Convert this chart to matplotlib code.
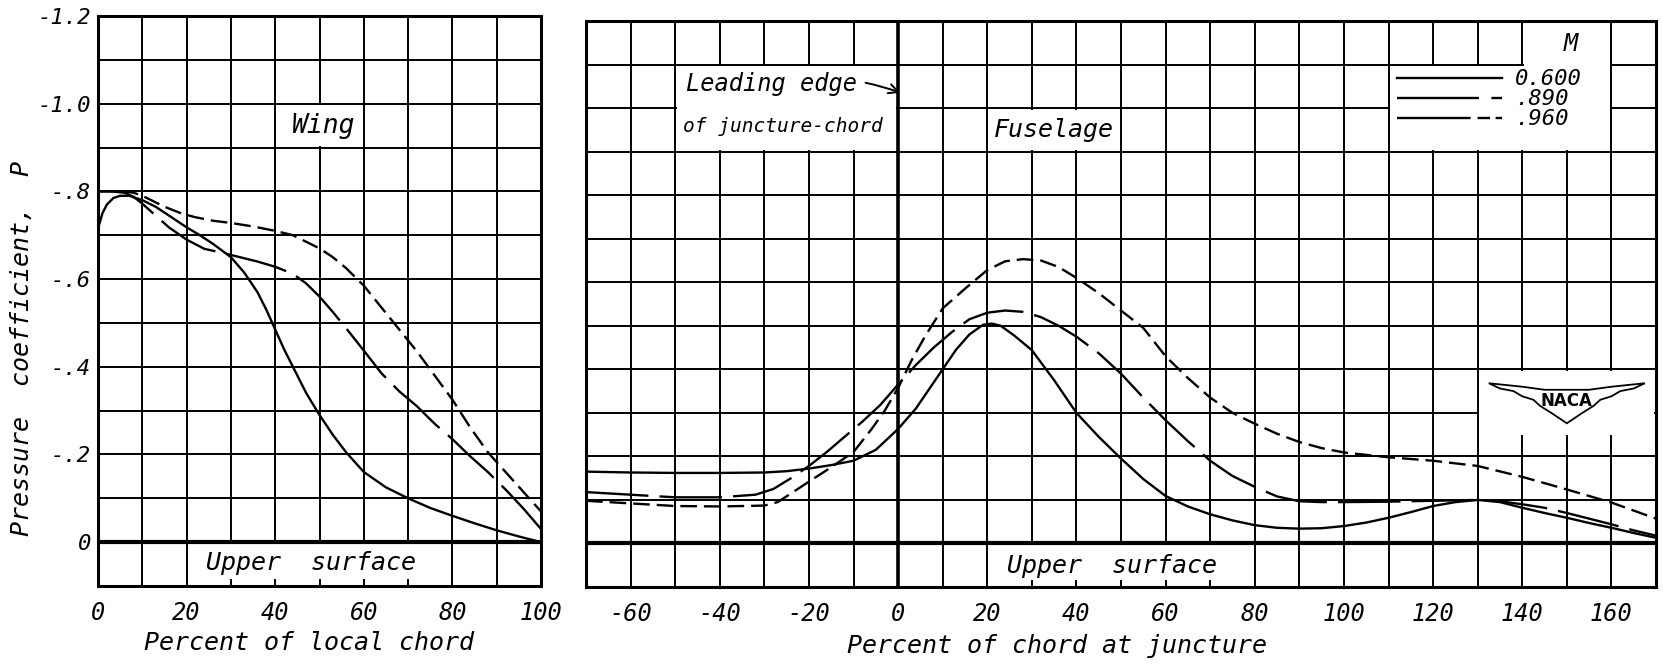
import matplotlib
matplotlib.use("Agg")
import matplotlib.pyplot as plt
from matplotlib.patches import Rectangle, Polygon
from matplotlib.lines import Line2D

plt.rcParams['font.family'] = ['DejaVu Sans Mono', 'DejaVu Sans']
plt.rcParams['font.style'] = 'italic'
plt.rcParams['font.size'] = 17
plt.rcParams['lines.scale_dashes'] = False

# ---- Wing (percent of local chord) ----
wing_x_600 = [0, 1, 2, 3.5, 5, 7, 10, 13, 16, 20, 23, 26, 30, 33, 36, 38, 40, 42, 44, 47,
              50, 53, 56, 60, 65, 70, 75, 80, 85, 90, 95, 100]
wing_p_600 = [-0.715, -0.75, -0.77, -0.785, -0.79, -0.79, -0.78, -0.765, -0.745, -0.718, -0.70,
              -0.68, -0.65, -0.615, -0.57, -0.53, -0.485, -0.44, -0.40, -0.34, -0.29, -0.245,
              -0.205, -0.16, -0.125, -0.10, -0.078, -0.06, -0.043, -0.027, -0.013, 0.0]

wing_x_890 = [0, 3, 6, 8, 10, 13, 16, 20, 24, 28, 32, 36, 40, 44, 47, 50, 53, 56, 60, 64,
              68, 72, 76, 80, 84, 88, 92, 96, 100]
wing_p_890 = [-0.80, -0.80, -0.797, -0.788, -0.772, -0.745, -0.718, -0.69, -0.669, -0.66,
              -0.65, -0.64, -0.628, -0.612, -0.59, -0.56, -0.525, -0.488, -0.437, -0.385,
              -0.344, -0.31, -0.27, -0.235, -0.196, -0.16, -0.12, -0.077, -0.03]

wing_x_960 = [0, 3, 6, 8, 10, 12, 15, 19, 22, 26, 30, 35, 40, 44, 47, 50, 53, 56, 60, 64,
              68, 72, 76, 80, 84, 88, 92, 96, 100]
wing_p_960 = [-0.80, -0.80, -0.80, -0.797, -0.79, -0.78, -0.765, -0.749, -0.741, -0.733,
              -0.728, -0.72, -0.71, -0.70, -0.685, -0.67, -0.65, -0.625, -0.585, -0.535,
              -0.485, -0.435, -0.38, -0.325, -0.262, -0.205, -0.16, -0.115, -0.07]

# ---- Fuselage (percent of chord at juncture) ----
fus_x_600 = [-70, -60, -50, -40, -30, -25, -20, -15, -10, -5, 0, 4, 7, 10, 13, 16, 19, 21, 23,
             26, 30, 35, 40, 45, 50, 55, 60, 65, 70, 75, 80, 85, 90, 95, 100, 105, 110, 115,
             120, 125, 130, 135, 140, 145, 150, 155, 160, 165, 170]
fus_p_600 = [-0.165, -0.163, -0.162, -0.162, -0.163, -0.166, -0.172, -0.18, -0.19, -0.215,
             -0.263, -0.31, -0.355, -0.40, -0.445, -0.48, -0.502, -0.505, -0.50, -0.478,
             -0.444, -0.375, -0.30, -0.245, -0.195, -0.148, -0.109, -0.085, -0.067, -0.053,
             -0.042, -0.036, -0.034, -0.035, -0.04, -0.048, -0.059, -0.072, -0.086, -0.095,
             -0.10, -0.095, -0.082, -0.07, -0.059, -0.047, -0.036, -0.024, -0.013]

fus_x_890 = [-70, -60, -50, -40, -32, -28, -24, -20, -16, -12, -8, -4, 0, 4, 8, 12, 16, 20,
             24, 28, 32, 36, 40, 45, 50, 55, 60, 65, 70, 75, 80, 85, 90, 95, 100, 110, 120,
             130, 135, 140, 145, 150, 155, 160, 165, 170]
fus_p_890 = [-0.118, -0.112, -0.106, -0.106, -0.112, -0.125, -0.15, -0.178, -0.21, -0.245,
             -0.28, -0.318, -0.365, -0.41, -0.45, -0.485, -0.515, -0.53, -0.535, -0.532,
             -0.52, -0.50, -0.475, -0.437, -0.39, -0.335, -0.283, -0.235, -0.19, -0.155,
             -0.13, -0.108, -0.097, -0.095, -0.095, -0.096, -0.098, -0.10, -0.097, -0.09,
             -0.082, -0.07, -0.057, -0.044, -0.03, -0.018]

fus_x_960 = [-70, -60, -50, -40, -30, -27, -24, -20, -15, -10, -6, -3, 0, 3, 6, 10, 15, 20,
             24, 28, 32, 36, 40, 45, 50, 55, 60, 65, 70, 75, 80, 85, 90, 95, 100, 110, 120,
             130, 140, 150, 160, 170]
fus_p_960 = [-0.098, -0.092, -0.086, -0.085, -0.087, -0.095, -0.115, -0.142, -0.175, -0.21,
             -0.262, -0.305, -0.357, -0.42, -0.475, -0.54, -0.585, -0.628, -0.648, -0.653,
             -0.65, -0.635, -0.61, -0.575, -0.535, -0.495, -0.43, -0.38, -0.335, -0.30,
             -0.275, -0.252, -0.233, -0.219, -0.209, -0.198, -0.19, -0.178, -0.153, -0.124,
             -0.094, -0.057]

mach_labels = ["0.600", ".890", ".960"]
y_ticks = [-1.2, -1.0, -0.8, -0.6, -0.4, -0.2, 0]
y_ticklabels = ["-1.2", "-1.0", "-.8", "-.6", "-.4", "-.2", "0"]

dash_890 = (45, 8)
dash_960 = (12, 5)
LW = 1.7

fig = plt.figure(figsize=(16.63, 6.72), dpi=100)
ax1 = fig.add_axes([98 / 1663, 1 - 586 / 672, 443 / 1663, 570 / 672])
ax2 = fig.add_axes([586 / 1663, 1 - 587 / 672, 1070 / 1663, 566 / 672])


def style_axes(ax, xmin, xmax, xmajor):
    ax.set_xlim(xmin, xmax)
    ax.set_ylim(0.1, -1.2)
    ax.set_xticks(xmajor)
    ax.set_xticks(list(range(xmin, xmax + 1, 10)), minor=True)
    ax.set_yticks(y_ticks)
    ax.set_yticks([round(-0.1 * i, 1) for i in range(-1, 13)], minor=True)
    ax.set_axisbelow(True)
    ax.grid(True, which='both', color='black', lw=1.4)
    ax.tick_params(which='both', length=0)
    ax.tick_params(axis='x', pad=11, labelsize=17)
    ax.tick_params(axis='y', pad=5, labelsize=16)
    for s in ax.spines.values():
        s.set_linewidth(2.2)
    ax.axhline(0, color='black', lw=3.0, zorder=1.5)


def white_box(ax, x0, x1, y0, y1):
    ax.add_patch(Rectangle((x0, y0), x1 - x0, y1 - y0, facecolor='white',
                           edgecolor='none', zorder=1))


style_axes(ax1, 0, 100, list(range(0, 101, 20)))
ax1.set_yticklabels(y_ticklabels)
ax1.set_xticklabels([str(v) for v in range(0, 101, 20)])

style_axes(ax2, -70, 170, list(range(-60, 161, 20)))
ax2.set_yticklabels([])
ax2.set_xticklabels([str(v) for v in range(-60, 161, 20)])
ax2.axvline(0, color='black', lw=2.6, zorder=1.5)

# curves
ax1.plot(wing_x_600, wing_p_600, color='black', lw=LW, zorder=3)
ax1.plot(wing_x_890, wing_p_890, color='black', lw=LW, dashes=dash_890, zorder=3)
ax1.plot(wing_x_960, wing_p_960, color='black', lw=LW, dashes=dash_960, zorder=3)

ax2.plot(fus_x_600, fus_p_600, color='black', lw=LW, zorder=3)
ax2.plot(fus_x_890, fus_p_890, color='black', lw=LW, dashes=dash_890, zorder=3)
ax2.plot(fus_x_960, fus_p_960, color='black', lw=LW, dashes=dash_960, zorder=3)

# annotation boxes - wing
white_box(ax1, 40.4, 59.6, -0.996, -0.904)
ax1.text(51, -0.95, "Wing", ha='center', va='center', fontsize=19, zorder=4)
white_box(ax1, 20.4, 79.6, 0.004, 0.084)
ax1.text(48, 0.048, "Upper  surface", ha='center', va='center', fontsize=18, zorder=4)

# annotation boxes - fuselage
white_box(ax2, -49.6, -0.4, -1.096, -0.904)
ax2.annotate("Leading edge", xy=(0.5, -1.035), xytext=(-47.5, -1.055),
             ha='left', va='center', fontsize=17, zorder=4,
             arrowprops=dict(arrowstyle='->', color='black', lw=1.4,
                             shrinkA=4, shrinkB=0,
                             connectionstyle='arc3,rad=-0.15'))
ax2.text(-48.3, -0.958, "of juncture-chord", ha='left', va='center', fontsize=14, zorder=4)
white_box(ax2, 20.4, 49.6, -0.996, -0.904)
ax2.text(35, -0.95, "Fuselage", ha='center', va='center', fontsize=18, zorder=4)
white_box(ax2, 20.4, 79.6, 0.004, 0.084)
ax2.text(48, 0.052, "Upper  surface", ha='center', va='center', fontsize=18, zorder=4)

# legend
white_box(ax2, 110.4, 159.6, -1.096, -0.904)
white_box(ax2, 140.4, 159.6, -1.196, -1.0)
ax2.text(151, -1.147, "M", ha='center', va='center', fontsize=17, zorder=4)
handles = [
    Line2D([], [], color='black', lw=LW),
    Line2D([], [], color='black', lw=LW, dashes=(59, 9, 14, 60)),
    Line2D([], [], color='black', lw=LW, dashes=(53, 5, 9, 4, 9, 4, 9, 60)),
]
leg = ax2.legend(handles, mach_labels, loc='upper left',
                 bbox_to_anchor=(112, -1.089), bbox_transform=ax2.transData,
                 frameon=False, borderpad=0, borderaxespad=0, handlelength=4.7,
                 handletextpad=0.6, labelspacing=0.0, fontsize=16)
leg.set_zorder(5)

# NACA emblem
white_box(ax2, 130.4, 169.6, -0.396, -0.25)
emblem = Polygon([(132.5, -0.368), (140, -0.36), (145, -0.353), (150, -0.353),
                  (155, -0.353), (160, -0.36), (167.5, -0.368), (165, -0.356),
                  (162, -0.35), (160, -0.338), (157.5, -0.33), (156, -0.316),
                  (153.5, -0.3), (150, -0.276), (146.5, -0.3), (144, -0.316),
                  (142.5, -0.33), (140, -0.338), (138, -0.35), (135, -0.356)],
                 closed=True, facecolor='white', edgecolor='black', lw=1.3, zorder=4)
ax2.add_patch(emblem)
ax2.text(150, -0.328, "NACA", ha='center', va='center', fontsize=12, fontstyle='normal',
         fontweight='bold', family='DejaVu Sans', zorder=5)

# axis labels
fig.text(22 / 1663, 1 - 348 / 672, "Pressure  coefficient,  P", rotation=90,
         ha='center', va='center', fontsize=18)
fig.text(309 / 1663, 1 - 643 / 672, "Percent of local chord", ha='center',
         va='center', fontsize=18)
fig.text(1057 / 1663, 1 - 646 / 672, "Percent of chord at juncture", ha='center',
         va='center', fontsize=18)

fig.savefig("out.png", dpi=100)
